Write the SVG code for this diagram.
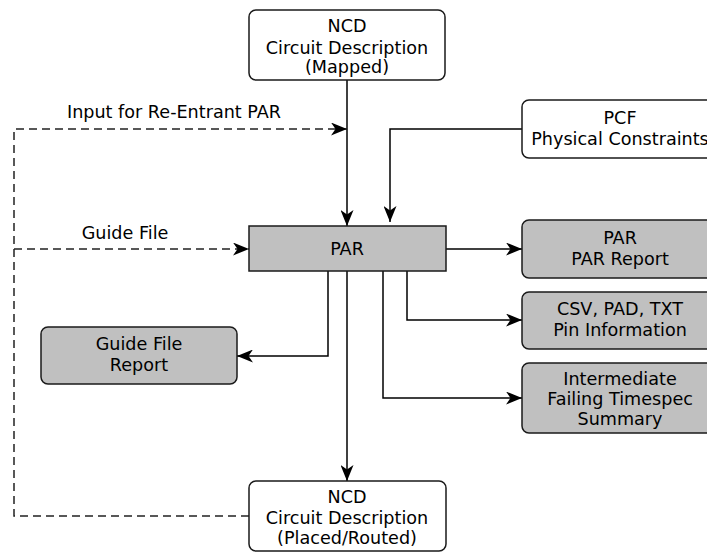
<svg xmlns="http://www.w3.org/2000/svg" width="707" height="552" viewBox="0 0 707 552">
  <style>
    .box { stroke: #1a1a1a; stroke-width: 1.5; }
    .plain { fill: #ffffff; }
    .shaded { fill: #c0c0c0; }
    .lbl { font-family: "DejaVu Sans", sans-serif; font-size: 17.6px; fill: #000; text-anchor: middle; }
    .edge { fill: none; stroke: #000; stroke-width: 1.5; }
    .dash { stroke-dasharray: 8 5; stroke: #222; }
  </style>
  <defs>
    <marker id="arrow" viewBox="0 0 16 13" refX="16" refY="6.5" markerWidth="16" markerHeight="13" markerUnits="userSpaceOnUse" orient="auto">
      <path d="M0,0 L16,6.5 L0,13 L4.5,6.5 Z" fill="#000"/>
    </marker>
  </defs>
  <rect width="707" height="552" fill="#ffffff"/>

  <g id="connectors">
    <!-- mapped design into PAR -->
    <path class="edge" d="M347,80 V226" marker-end="url(#arrow)"/>
    <!-- constraints into PAR -->
    <path class="edge" d="M522,129 H390 V222" marker-end="url(#arrow)"/>
    <!-- PAR outputs -->
    <path class="edge" d="M446,249 H522" marker-end="url(#arrow)"/>
    <path class="edge" d="M407,271 V320 H522" marker-end="url(#arrow)"/>
    <path class="edge" d="M383,271 V398 H522" marker-end="url(#arrow)"/>
    <path class="edge" d="M328,271 V356 H237" marker-end="url(#arrow)"/>
    <path class="edge" d="M347,271 V481" marker-end="url(#arrow)"/>
    <!-- feedback paths -->
    <path class="edge dash" d="M249,516 H14 V129 H347" marker-end="url(#arrow)"/>
    <path class="edge dash" d="M14,249 H249" marker-end="url(#arrow)"/>
    <text class="lbl" x="174" y="118">Input for Re-Entrant PAR</text>
    <text class="lbl" x="125" y="239">Guide File</text>
  </g>

  <g id="ncd-mapped">
    <rect class="box plain" x="249" y="10" width="196" height="70" rx="7"/>
    <text class="lbl" x="347" y="32">NCD</text>
    <text class="lbl" x="347" y="54">Circuit Description</text>
    <text class="lbl" x="347" y="73">(Mapped)</text>
  </g>

  <g id="pcf">
    <rect class="box plain" x="522" y="100" width="196" height="58" rx="7"/>
    <text class="lbl" x="620" y="124">PCF</text>
    <text class="lbl" x="620" y="145">Physical Constraints</text>
  </g>

  <g id="par">
    <rect class="box shaded" x="249" y="226" width="197" height="45"/>
    <text class="lbl" x="347" y="255">PAR</text>
  </g>

  <g id="par-report">
    <rect class="box shaded" x="522" y="220" width="196" height="58" rx="7"/>
    <text class="lbl" x="620" y="244">PAR</text>
    <text class="lbl" x="620" y="265">PAR Report</text>
  </g>

  <g id="pin-info">
    <rect class="box shaded" x="522" y="292" width="196" height="57" rx="7"/>
    <text class="lbl" x="620" y="315">CSV, PAD, TXT</text>
    <text class="lbl" x="620" y="336">Pin Information</text>
  </g>

  <g id="timespec-summary">
    <rect class="box shaded" x="522" y="363" width="196" height="70" rx="7"/>
    <text class="lbl" x="620" y="385">Intermediate</text>
    <text class="lbl" x="620" y="405">Failing Timespec</text>
    <text class="lbl" x="620" y="425">Summary</text>
  </g>

  <g id="guide-report">
    <rect class="box shaded" x="41" y="327" width="196" height="57" rx="7"/>
    <text class="lbl" x="139" y="350">Guide File</text>
    <text class="lbl" x="139" y="371">Report</text>
  </g>

  <g id="ncd-routed">
    <rect class="box plain" x="249" y="481" width="197" height="70" rx="7"/>
    <text class="lbl" x="347" y="503">NCD</text>
    <text class="lbl" x="347" y="524">Circuit Description</text>
    <text class="lbl" x="347" y="544">(Placed/Routed)</text>
  </g>
</svg>
